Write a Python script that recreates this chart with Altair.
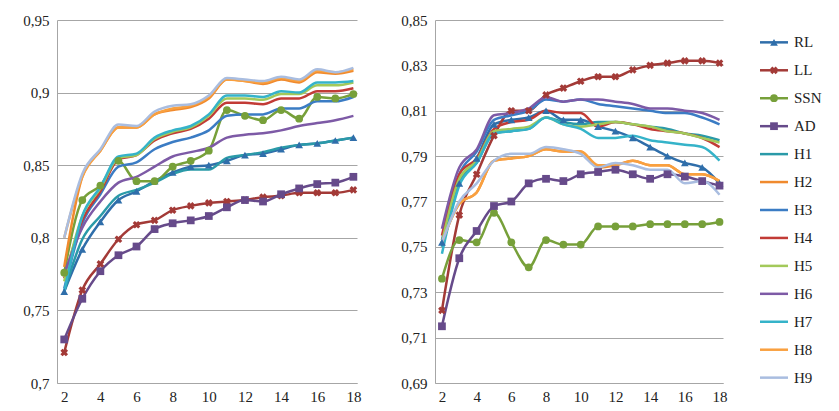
import altair as alt
import pandas as pd

x_vals = list(range(2, 19))
series = ["RL", "LL", "SSN", "AD", "H1", "H2", "H3", "H4", "H5", "H6", "H7", "H8", "H9"]
colors = ["#2f6eaa", "#a33a37", "#77a03a", "#664a8a", "#2a9aa8", "#f08a2e", "#3b7cc4",
          "#c23b36", "#a3c95a", "#7d5aa6", "#35b3c9", "#f9a03f", "#a9bde0"]
marker_shapes = {"RL": "triangle-up", "LL": "cross", "SSN": "circle", "AD": "square"}
marker_angles = {"RL": 0, "LL": 45, "SSN": 0, "AD": 0}

left = {
    "RL": [.763, .792, .811, .826, .832, .839, .845, .849, .850, .853, .857, .858, .861, .864, .865, .867, .869],
    "LL": [.721, .764, .782, .799, .809, .812, .819, .822, .824, .825, .826, .828, .829, .831, .831, .831, .833],
    "SSN": [.776, .826, .836, .853, .839, .839, .849, .853, .860, .888, .884, .881, .888, .882, .897, .896, .899],
    "AD": [.730, .758, .777, .788, .794, .806, .810, .812, .815, .821, .826, .825, .830, .834, .837, .838, .842],
    "H1": [.763, .799, .815, .829, .833, .838, .844, .847, .847, .855, .857, .859, .862, .864, .865, .867, .869],
    "H2": [.780, .842, .860, .876, .876, .885, .888, .890, .896, .909, .908, .906, .909, .907, .914, .913, .915],
    "H3": [.765, .810, .830, .849, .852, .861, .866, .869, .874, .884, .885, .885, .889, .889, .894, .894, .897],
    "H4": [.772, .812, .832, .854, .857, .867, .872, .875, .882, .893, .893, .892, .896, .896, .901, .901, .903],
    "H5": [.770, .815, .834, .855, .857, .868, .873, .876, .884, .896, .896, .895, .899, .899, .905, .905, .907],
    "H6": [.775, .807, .825, .838, .842, .849, .856, .859, .862, .869, .871, .872, .874, .877, .879, .881, .884],
    "H7": [.763, .815, .835, .856, .858, .869, .874, .877, .885, .898, .898, .897, .901, .900, .907, .907, .908],
    "H8": [.800, .842, .860, .876, .876, .885, .889, .891, .897, .909, .908, .907, .910, .908, .915, .914, .916],
    "H9": [.800, .844, .861, .878, .877, .887, .891, .892, .898, .910, .909, .908, .911, .909, .916, .914, .917],
}
right = {
    "RL": [.752, .778, .789, .804, .806, .807, .810, .806, .806, .803, .801, .798, .794, .790, .787, .785, .778],
    "LL": [.722, .764, .782, .799, .810, .810, .817, .820, .823, .825, .825, .828, .830, .831, .832, .832, .831],
    "SSN": [.736, .753, .752, .765, .752, .741, .753, .751, .751, .759, .759, .759, .760, .760, .760, .760, .761],
    "AD": [.715, .745, .757, .768, .770, .778, .780, .779, .782, .783, .784, .782, .780, .782, .781, .779, .777],
    "H1": [.750, .779, .787, .800, .801, .802, .807, .805, .804, .805, .805, .804, .803, .802, .800, .799, .797],
    "H2": [.752, .769, .774, .788, .789, .790, .793, .792, .792, .785, .786, .788, .786, .786, .782, .782, .779],
    "H3": [.753, .782, .792, .806, .808, .810, .815, .814, .815, .813, .812, .811, .810, .809, .809, .807, .804],
    "H4": [.755, .782, .789, .802, .805, .806, .810, .809, .809, .803, .805, .804, .802, .801, .800, .798, .794],
    "H5": [.752, .780, .788, .801, .802, .803, .807, .804, .803, .804, .805, .804, .803, .801, .800, .798, .796],
    "H6": [.758, .785, .793, .808, .809, .811, .816, .814, .815, .815, .814, .813, .811, .811, .810, .809, .806],
    "H7": [.747, .777, .787, .800, .801, .802, .807, .804, .802, .798, .798, .799, .797, .796, .795, .794, .788],
    "H8": [.752, .769, .774, .788, .789, .790, .793, .792, .792, .786, .786, .788, .786, .786, .782, .782, .779],
    "H9": [.752, .770, .778, .788, .791, .791, .794, .793, .791, .785, .787, .786, .784, .784, .778, .779, .773],
}

FONT = "'Liberation Serif', 'DejaVu Serif', serif"
color_scale = alt.Scale(domain=series, range=colors)
shape_scale = alt.Scale(domain=list(marker_shapes), range=list(marker_shapes.values()))


def long(d):
    rows = []
    for s in series:
        for x, v in zip(x_vals, d[s]):
            rows.append({"x": x, "y": v, "s": s, "ang": marker_angles.get(s, 0)})
    return pd.DataFrame(rows)


def markers(df, xenc, yenc):
    return alt.Chart(df[df.s.isin(list(marker_shapes))]).mark_point(
        filled=True, size=60, opacity=1).encode(
        x=xenc, y=yenc,
        color=alt.Color("s:N", scale=color_scale, legend=None),
        shape=alt.Shape("s:N", scale=shape_scale, legend=None),
        angle=alt.Angle("ang:Q", scale=None),
    )


def panel(d, ymin, ymax, ticks, w):
    df = long(d)
    xenc = alt.X("x:Q", scale=alt.Scale(domain=[1.6, 18.2], nice=False),
                 axis=alt.Axis(values=list(range(2, 19, 2)), grid=False, title=None,
                               ticks=False, labelPadding=6))
    yenc = alt.Y("y:Q", scale=alt.Scale(domain=[ymin, ymax], nice=False),
                 axis=alt.Axis(values=ticks, title=None, ticks=False, domain=True,
                               labelExpr="replace(format(datum.value, '.2~f'), '.', ',')",
                               gridColor="#a6a6a6", labelPadding=8, minExtent=44))
    lines = alt.Chart(df).mark_line(strokeWidth=2.5, interpolate="monotone").encode(
        x=xenc, y=yenc,
        color=alt.Color("s:N", scale=color_scale, legend=None),
        detail="s:N", order="x:Q"
    )
    return alt.layer(lines, markers(df, xenc, yenc)).properties(width=w, height=363)


left_chart = panel(left, 0.7, 0.95, [0.7, 0.75, 0.8, 0.85, 0.9, 0.95], 300)
right_chart = panel(right, 0.69, 0.85, [0.69, 0.71, 0.73, 0.75, 0.77, 0.79, 0.81, 0.83, 0.85], 288)

leg_df = pd.DataFrame({"s": series, "ang": [marker_angles.get(s, 0) for s in series]})
ly = alt.Y("s:N", sort=series, axis=None, scale=alt.Scale(paddingOuter=0.3))
leg_lines = alt.Chart(leg_df).mark_rule(strokeWidth=2.5).encode(
    x=alt.value(0), x2=alt.value(28), y=ly,
    color=alt.Color("s:N", scale=color_scale, legend=None))
leg_pts = alt.Chart(leg_df[leg_df.s.isin(list(marker_shapes))]).mark_point(
    filled=True, size=60, opacity=1).encode(
    x=alt.value(14), y=ly,
    color=alt.Color("s:N", scale=color_scale, legend=None),
    shape=alt.Shape("s:N", scale=shape_scale, legend=None),
    angle=alt.Angle("ang:Q", scale=None))
leg_text = alt.Chart(leg_df).mark_text(align="left", font=FONT, fontSize=15, color="#222").encode(
    x=alt.value(34), y=ly, text="s:N")
legend = alt.layer(leg_lines, leg_pts, leg_text).properties(width=40, height=380)

chart = alt.hconcat(left_chart, right_chart, legend).configure_view(
    stroke=None
).configure_axis(
    labelFont=FONT, labelFontSize=15, labelColor="#222", domainColor="#a6a6a6"
).configure_concat(spacing=30)

chart.save("out.html", embed_options={"renderer": "svg", "actions": False})
